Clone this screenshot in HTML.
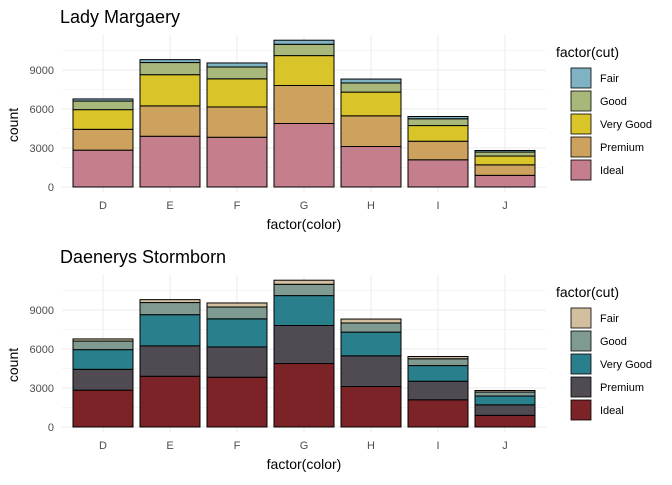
<!DOCTYPE html>
<html><head><meta charset="utf-8"><style>
body{margin:0;background:#fff;font-family:"Liberation Sans",sans-serif;}
</style></head><body>
<svg id="chart" width="672" height="480" viewBox="0 0 672 480" xmlns="http://www.w3.org/2000/svg"></svg>
<script>
const colorsCat = ["D","E","F","G","H","I","J"];
const cutNames = ["Ideal","Premium","Very Good","Good","Fair"];
const idealVals = [2834,3903,3826,4884,3115,2093,896];
const premiumVals = [1603,2337,2331,2924,2360,1428,808];
const veryGoodVals = [1513,2400,2164,2299,1824,1204,678];
const goodVals = [662,933,909,871,702,522,307];
const fairVals = [163,224,312,314,303,175,119];
const yTicks = [0,3000,6000,9000];
const series = [idealVals,premiumVals,veryGoodVals,goodVals,fairVals];
const panels = [
 {title:"Lady Margaery", off:0, cols:["#c47e8c","#cda25f","#d9c52a","#a8b87a","#7fb3c3"]},
 {title:"Daenerys Stormborn", off:240, cols:["#7b2326","#504b52","#2a7f8c","#7f9a90","#d2bfa0"]}
];
const svg=document.getElementById('chart');
const NS="http://www.w3.org/2000/svg";
function mk(tag,attrs,parent){const e=document.createElementNS(NS,tag);for(const k in attrs)e.setAttribute(k,attrs[k]);(parent||svg).appendChild(e);return e;}
const xS=i=>103+i*67;
panels.forEach((p,pi)=>{
  const g=mk('g',{});
  
  
  const yS=v=>187+p.off-v*0.013;
  // grid
  for(let v=0;v<=10500;v+=1500){const l=mk('line',{x1:62,x2:546,y1:yS(v),y2:yS(v),stroke:'#ebebeb','stroke-width':v%3000?0.5:1},g);}
  colorsCat.forEach((c,i)=>mk('line',{x1:xS(i),x2:xS(i),y1:35+p.off,y2:192+p.off,stroke:'#ebebeb'},g));
  // bars
  colorsCat.forEach((c,i)=>{
    let base=0;
    series.forEach((s,si)=>{
      const v=s[i];
      const r=mk('rect',{x:xS(i)-30,y:yS(base+v),width:60,height:yS(base)-yS(base+v),fill:p.cols[si],stroke:'#000','stroke-width':1},g);
      
      
      base+=v;
    });
    const t=mk('text',{x:xS(i),y:209+p.off,'font-size':11,fill:'#4d4d4d','text-anchor':'middle'},g);t.textContent=c;
    
  });
  yTicks.forEach(v=>{const t=mk('text',{x:54,y:yS(v)+4,'font-size':11,fill:'#4d4d4d','text-anchor':'end'},g);t.textContent=v;
    });
  const ti=mk('text',{x:60,y:23+p.off,'font-size':18,fill:'#000'},g);ti.textContent=p.title;
  
  const xt=mk('text',{x:304,y:229+p.off,'font-size':14,fill:'#000','text-anchor':'middle'},g);xt.textContent='factor(color)';
  
  const yt=mk('text',{x:0,y:0,'font-size':14,fill:'#000','text-anchor':'middle',transform:`translate(18,${125+p.off}) rotate(-90)`},g);yt.textContent='count';
  
  const lt=mk('text',{x:556,y:57+p.off,'font-size':14,fill:'#000'},g);lt.textContent='factor(cut)';
  
  for(let k=0;k<5;k++){
    const si=4-k;
    const ly=67+p.off+k*23;
    const r=mk('rect',{x:571,y:ly+1,width:20,height:20,fill:p.cols[si],stroke:'#000','stroke-width':0.8},g);
    
    const t=mk('text',{x:600,y:ly+15,'font-size':11,fill:'#000'},g);t.textContent=cutNames[si];
    
  }
});
</script>
</body></html>
